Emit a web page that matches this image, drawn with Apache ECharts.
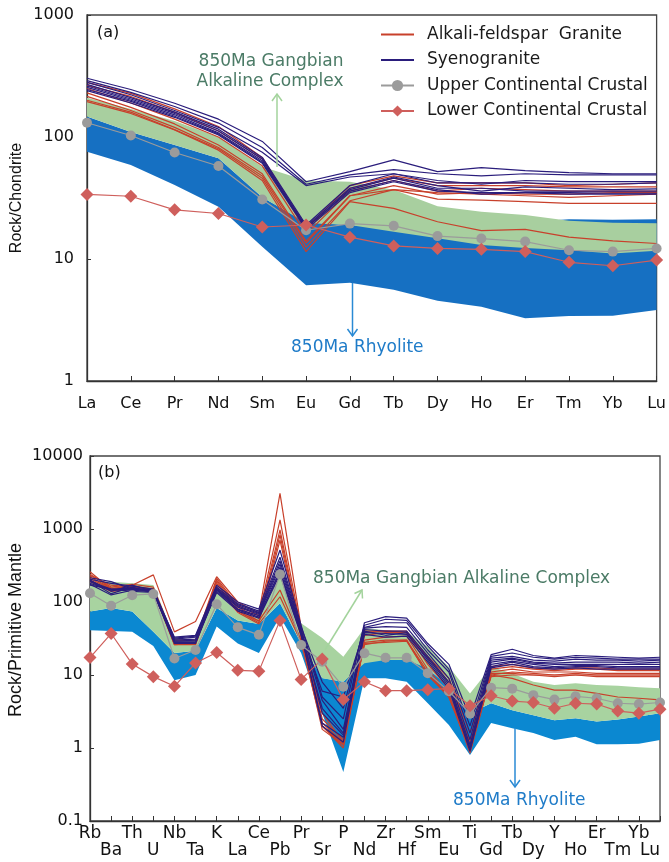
<!DOCTYPE html>
<html><head><meta charset="utf-8">
<script src="https://cdn.jsdelivr.net/npm/echarts@6/dist/echarts.min.js"></script>
<style>html,body{margin:0;padding:0;background:#fff}#c{width:669px;height:862px}</style>
</head><body><div id="c"></div>
<script>
// ---------- Panel (a): chondrite-normalised REE ----------
const reeLabels = ['La','Ce','Pr','Nd','Sm','Eu','Gd','Tb','Dy','Ho','Er','Tm','Yb','Lu'];
const reeUCC = [130.8,102.9,74.7,57.8,30.7,17.2,19.5,18.7,15.4,14.7,13.9,11.8,11.5,12.2];
const reeLCC = [33.8,32.7,25.3,23.6,18.3,19.0,15.1,12.8,12.2,12.0,11.5,9.4,8.8,9.8];
const reeGreenHigh = [210,170,135,100,57,44,43,37,27,24.4,22.9,20.6,19.8,19.6];
const reeGreenLow  = [147,110,86,67,32,19.7,19,16.7,14.8,13,12.3,11.8,11.1,11.7];
const reeBlueHigh  = [147,110,86,67,32,20,19,18,18,19,20,21.2,21,21.2];
const reeBlueLow   = [75.8,59,40.4,26.8,12.6,6.1,6.4,5.6,4.55,4.06,3.27,3.41,3.43,3.82];
const reeAFG = [
  [280,228,170,122,68,18,40,48,42,42,42,40,41,42],
  [265,215,160,112,66,17,38,46,40,40,40,39,39,39],
  [250,190,140,100,58,16,36,44,36,38,37,36,36,36],
  [230,175,128,86,50,14,33,40,34,35,34,34,35,35],
  [215,165,120,82,48,13.5,33,37,31,30.4,29.5,28.6,28.6,28.6],
  [200,160,115,80,46,12.5,30,37,35,34,33,32,33,34],
  [195,156,114,78,44,11.5,29.5,26,20.2,17.1,17.5,15.1,14.1,13.4]
];
const reeSYG = [
  [303,245,189,140,92,43,52,65,52,56,53,51,50,50],
  [290,232,178,130,82,41,49,54,50,48,50,49,49,49],
  [280,222,165,120,75,40,47,50,44,41,44,43,43,43],
  [270,210,160,116,68,19,40,50,42,42,42,41,41,42],
  [262,205,156,112,66,18.5,38,47,40,36,39,38,37,37.5],
  [255,200,152,108,64,18,37,46,38,38,36,36,36,36],
  [245,196,148,106,62,18,36,44,37,34,35,35,34.6,34.6],
  [240,190,145,104,61,17.5,35,43,36,35,35,34,34,34]
];
const reeTicks = [1,10,100,1000];

// ---------- Panel (b): primitive-mantle-normalised spider ----------
const spLabels = ['Rb','Ba','Th','U','Nb','Ta','K','La','Ce','Pb','Pr','Sr','P','Nd','Zr','Hf','Sm','Eu','Ti','Gd','Tb','Dy','Y','Ho','Er','Tm','Yb','Lu'];
const spUCC = [132,89,124,129,16.8,22,93,45,35.5,239,25.7,15.2,6.9,19.9,17.2,17.2,10.6,6.0,2.95,6.7,6.5,5.3,4.6,5.1,4.8,4.1,4.0,4.2];
const spLCC = [17.3,37,14.1,9.5,7.0,14.6,20.3,11.6,11.3,56,8.7,16.5,4.6,8.1,6.1,6.1,6.3,6.5,3.8,5.2,4.4,4.2,3.5,4.1,4.0,3.2,3.0,3.4];
const spGreenHigh = [190,190,180,171,33,30,146,70,60,234,51,32,17.8,44,41,39,24.4,13,5.6,13,10.5,8.1,7.3,7.7,7.3,7.1,6.8,6.6];
const spGreenLow  = [74,83,74,39,20,21.5,83,56,50,96,27,9.0,8.1,14.5,16,16,12.3,6.9,3.0,4.1,3.3,2.8,2.4,2.55,2.3,2.45,2.7,3.0];
const spBlueHigh  = [74,83,74,39,20,21.5,83,56,50,96,27,9.1,8.1,16,17,17,12.3,6.9,3.0,4.1,3.3,2.8,2.4,2.55,2.3,2.45,2.7,3.0];
const spBlueLow   = [41,40,39,25,8.5,10,46,27,20,63,20,3.0,0.47,9.0,9.0,8.1,4.1,2.07,0.8,2.2,1.86,1.6,1.29,1.43,1.13,1.13,1.14,1.29];
const spAFG = [
  [260,150,170,235,39,54,222,100,70,3085,45,2.0,1.1,40,40,38,18,9,1.6,13,14,12.5,12,12.5,12.5,12,12,12],
  [240,160,175,160,30,30,210,90,65,1330,42,3.0,1.2,38,40,40,17,8,1.2,12,13,12,11.5,12,12,11.5,11.5,11.5],
  [230,170,160,150,28,28,200,85,60,970,38,2.5,1.3,35,38,38,14,6.5,0.9,11,12,11,11,11,10.5,10.5,10.5,10.5],
  [220,155,155,145,27,27,190,80,55,830,35,2.0,1.0,30,33,34,12,5.5,0.85,10,11,10.5,10,10.5,10,10,10,10],
  [210,150,165,150,26,26,180,75,52,706,32,1.8,1.1,28,30,30,11,5,0.95,10,9,7.3,6.2,6.2,5.6,5.0,4.8,4.55],
  [200,145,150,145,27,28,165,74,55,146,30,2.2,1.2,27,28,29,10,5.2,1.0,9.5,10,10,9.5,10,10,10,10,10],
  [190,140,150,140,26,27,155,72,50,118,28,2.0,1.15,26,29,30,10,5,0.9,10.5,10.5,10,10,10,9.5,9.5,9.5,9.5]
];
const spSYG = [
  [215,190,150,145,33,35,170,100,80,515,48,5,2.5,52,63,60,27,14,2.6,19,22.5,18.5,17,18.5,18,17.5,17,17.5],
  [205,180,165,150,32,34,160,95,75,410,45,8,3.5,48,58,56,25,12,2.0,18,20,17.5,16.5,17.5,17,16.5,16.5,16.5],
  [200,140,170,140,31,33,155,92,72,365,42,4.5,1.8,45,52,52,22,11,1.6,17,18,16,15.5,16.5,16,16,15.5,16],
  [195,130,160,135,30,31,150,88,70,330,40,3,1.5,44,46,45,20,9,1.3,16,17,15,14.5,15,15,15,14.5,15],
  [190,150,155,145,29,30,148,85,68,300,38,6,5,42,40,40,18,8,1.1,15,16.5,14.5,14,14,14,14,14,14],
  [180,145,150,140,28,28,146,80,65,270,37,2.0,1.2,40,35,38,16,7,1.0,14,15.5,14,13,13.5,13.5,13,13,13],
  [175,125,145,138,27,27,140,78,62,255,36,3.5,1.6,38,37,36,17,7.5,0.95,13,15,13,12.5,13,13,12.5,12.5,12.5],
  [170,150,140,135,29,29,135,75,60,240,35,2.2,1.4,36,33,34,15,6.5,0.9,12.5,14,12.5,12,12.5,12,12,12,12]
];
const spTicks = [0.1,1,10,100,1000,10000];

// ---------- styles ----------
const FONT = '"DejaVu Sans", sans-serif';
const RED = '#c8402b', NAVY = '#2a1d7c', GRAY = '#9b9b9b', PINK = '#cf5f5c';
const GREEN_A = '#a8cf9f', BLUE_A = '#1670c2', GREEN_B = '#a8d3a0', BLUE_B = '#0b88d1';
const N_AFG = 'Alkali-feldspar  Granite', N_SYG = 'Syenogranite',
      N_UCC = 'Upper Continental Crustal', N_LCC = 'Lower Continental Crustal';

function band(idx, low, high, color, z) {
  return {
    type: 'custom', xAxisIndex: idx, yAxisIndex: idx, z: z, silent: true, animation: false,
    data: low.map((v, i) => [i, v, high[i]]),
    encode: { x: 0, y: [1, 2] },
    renderItem: function (params, api) {
      if (params.dataIndex !== 0) return null;
      const pts = [];
      for (let i = 0; i < high.length; i++) pts.push(api.coord([i, high[i]]));
      for (let i = low.length - 1; i >= 0; i--) pts.push(api.coord([i, low[i]]));
      return { type: 'polygon', shape: { points: pts }, style: { fill: color } };
    }
  };
}
function sample(idx, name, data, color) {
  return { type: 'line', name: name, xAxisIndex: idx, yAxisIndex: idx, data: data, z: 3,
    symbol: 'none', silent: true, animation: false,
    lineStyle: { color: color, width: 1.2 }, itemStyle: { color: color } };
}
function ref(idx, name, data, color, symbol, size) {
  return { type: 'line', name: name, xAxisIndex: idx, yAxisIndex: idx, data: data, z: 4,
    symbol: symbol, symbolSize: size, showAllSymbol: true, silent: true, animation: false,
    lineStyle: { color: color, width: 1.2 }, itemStyle: { color: color } };
}
function fmtTick(v) { return v < 1 ? v.toFixed(1) : String(Math.round(v)); }

const series = [];
series.push(band(0, reeBlueLow, reeBlueHigh, BLUE_A, 1));
series.push(band(0, reeGreenLow, reeGreenHigh, GREEN_A, 2));
reeAFG.forEach(d => series.push(sample(0, N_AFG, d, RED)));
reeSYG.forEach(d => series.push(sample(0, N_SYG, d, NAVY)));
series.push(ref(0, N_UCC, reeUCC, GRAY, 'circle', 10));
series.push(ref(0, N_LCC, reeLCC, PINK, 'diamond', 13));

series.push(band(1, spBlueLow, spBlueHigh, BLUE_B, 1));
series.push(band(1, spGreenLow, spGreenHigh, GREEN_B, 2));
spAFG.forEach(d => series.push(sample(1, N_AFG, d, RED)));
spSYG.forEach(d => series.push(sample(1, N_SYG, d, NAVY)));
series.push(ref(1, N_UCC, spUCC, GRAY, 'circle', 10));
series.push(ref(1, N_LCC, spLCC, PINK, 'diamond', 13));

const axisLineStyle = { color: '#333', width: 1.3 };
const noSymbol = { color: 'rgba(0,0,0,0)', opacity: 0, borderWidth: 0 };

// staggered labels for panel (b)
function spFormatter(v, i) { return i % 2 ? '\n' + v : v; }

const option = {
  backgroundColor: '#fff',
  animation: false,
  grid: [
    { left: 87, right: 12, top: 15, bottom: 481, show: true, borderColor: '#444', borderWidth: 1.3, backgroundColor: 'transparent' },
    { left: 90, right: 9, top: 456, bottom: 41, show: true, borderColor: '#444', borderWidth: 1.3, backgroundColor: 'transparent' }
  ],
  xAxis: [
    { type: 'category', gridIndex: 0, data: reeLabels, boundaryGap: false,
      axisLine: { lineStyle: axisLineStyle },
      axisTick: { inside: true, length: 5, lineStyle: { color: '#333' } },
      axisLabel: { interval: 0, margin: 15, fontSize: 16, fontFamily: FONT, color: '#111', showMinLabel: true, showMaxLabel: true },
      splitLine: { show: false } },
    { type: 'category', gridIndex: 1, data: spLabels, boundaryGap: false,
      axisLine: { lineStyle: axisLineStyle },
      axisTick: { inside: true, length: 5, lineStyle: { color: '#333' } },
      axisLabel: { interval: 0, margin: 4, fontSize: 17, lineHeight: 17, fontFamily: FONT, color: '#111',
        showMinLabel: true, showMaxLabel: true, hideOverlap: false, alignMaxLabel: 'right',
        formatter: spFormatter },
      splitLine: { show: false } }
  ],
  yAxis: [
    { type: 'log', gridIndex: 0, logBase: 10, min: reeTicks[0], max: reeTicks[reeTicks.length - 1],
      axisLine: { show: true, lineStyle: axisLineStyle },
      axisTick: { show: true, inside: true, length: 4, lineStyle: { color: '#333' } },
      axisLabel: { margin: 13, fontSize: 16, fontFamily: FONT, color: '#111', formatter: fmtTick },
      minorTick: { show: false }, splitLine: { show: false } },
    { type: 'log', gridIndex: 1, logBase: 10, min: spTicks[0], max: spTicks[spTicks.length - 1],
      axisLine: { show: true, lineStyle: axisLineStyle },
      axisTick: { show: true, inside: true, length: 4, lineStyle: { color: '#333' } },
      axisLabel: { margin: 7, fontSize: 16, fontFamily: FONT, color: '#111', formatter: fmtTick },
      minorTick: { show: false }, splitLine: { show: false } }
  ],
  legend: {
    data: [
      { name: N_AFG, itemStyle: noSymbol },
      { name: N_SYG, itemStyle: noSymbol },
      { name: N_UCC },
      { name: N_LCC }
    ],
    orient: 'vertical', left: 375, top: 19, itemWidth: 33, itemHeight: 14, itemGap: 4.5,
    selectedMode: false,
    textStyle: { fontFamily: FONT, fontSize: 17, color: '#1a1a1a', lineHeight: 21, padding: [0, 0, 0, 8] }
  },
  graphic: [
    { type: 'text', x: 97, y: 33, z: 100, style: { text: '(a)', font: '16px ' + FONT, fill: '#111', textAlign: 'left', textVerticalAlign: 'middle' } },
    { type: 'text', x: 98, y: 473, z: 100, style: { text: '(b)', font: '16px ' + FONT, fill: '#111', textAlign: 'left', textVerticalAlign: 'middle' } },
    { type: 'text', x: 17, y: 198, rotation: Math.PI / 2, z: 100, style: { text: 'Rock/Chondrite', font: '16px "Liberation Sans", Arial, sans-serif', fill: '#111', textAlign: 'center', textVerticalAlign: 'middle' } },
    { type: 'text', x: 16, y: 630, rotation: Math.PI / 2, z: 100, style: { text: 'Rock/Primitive Mantle', font: '18px "Liberation Sans", Arial, sans-serif', fill: '#111', textAlign: 'center', textVerticalAlign: 'middle' } },
    // panel (a) annotations
    { type: 'text', x: 271, y: 62, z: 100, style: { text: '850Ma Gangbian', font: '17px ' + FONT, fill: '#4b7b66', textAlign: 'center', textVerticalAlign: 'middle' } },
    { type: 'text', x: 270, y: 82, z: 100, style: { text: 'Alkaline Complex', font: '17px ' + FONT, fill: '#4b7b66', textAlign: 'center', textVerticalAlign: 'middle' } },
    { type: 'line', z: 100, shape: { x1: 277, y1: 167, x2: 277, y2: 94 }, style: { stroke: '#a3d39c', lineWidth: 1.5 } },
    { type: 'polyline', z: 100, shape: { points: [[272, 101], [277, 94], [282, 101]] }, style: { stroke: '#a3d39c', lineWidth: 1.5, fill: null } },
    { type: 'text', x: 291, y: 348, z: 100, style: { text: '850Ma Rhyolite', font: '17px ' + FONT, fill: '#1e7bc8', textAlign: 'left', textVerticalAlign: 'middle' } },
    { type: 'line', z: 100, shape: { x1: 352.5, y1: 283, x2: 352.5, y2: 336 }, style: { stroke: '#2a8ad4', lineWidth: 1.5 } },
    { type: 'polyline', z: 100, shape: { points: [[347.5, 329], [352.5, 336], [357.5, 329]] }, style: { stroke: '#2a8ad4', lineWidth: 1.5, fill: null } },
    // panel (b) annotations
    { type: 'text', x: 313, y: 579, z: 100, style: { text: '850Ma Gangbian Alkaline Complex', font: '17px ' + FONT, fill: '#4b7b66', textAlign: 'left', textVerticalAlign: 'middle' } },
    { type: 'line', z: 100, shape: { x1: 325, y1: 650, x2: 362, y2: 590 }, style: { stroke: '#a3d39c', lineWidth: 1.5 } },
    { type: 'polyline', z: 100, shape: { points: [[354.5, 593.5], [362, 590], [362.5, 598.5]] }, style: { stroke: '#a3d39c', lineWidth: 1.5, fill: null } },
    { type: 'text', x: 453, y: 801, z: 100, style: { text: '850Ma Rhyolite', font: '17px ' + FONT, fill: '#1e7bc8', textAlign: 'left', textVerticalAlign: 'middle' } },
    { type: 'line', z: 100, shape: { x1: 515, y1: 728, x2: 515, y2: 787 }, style: { stroke: '#2a8ad4', lineWidth: 1.5 } },
    { type: 'polyline', z: 100, shape: { points: [[510, 780], [515, 787], [520, 780]] }, style: { stroke: '#2a8ad4', lineWidth: 1.5, fill: null } }
  ],
  series: series
};

const chart = echarts.init(document.getElementById('c'), null, { renderer: 'canvas' });
chart.setOption(option);
</script>
</body></html>
